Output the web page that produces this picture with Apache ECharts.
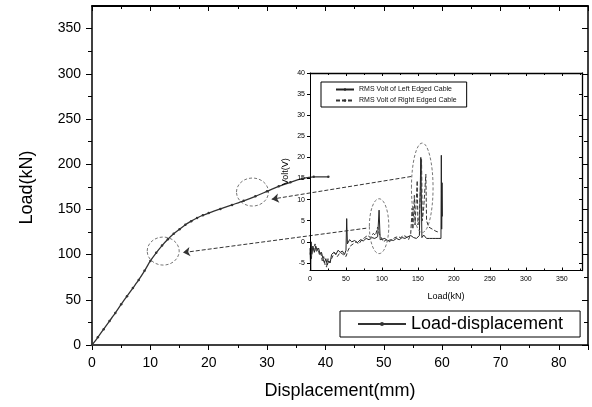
<!DOCTYPE html>
<html>
<head>
<meta charset="utf-8">
<script src="https://cdn.jsdelivr.net/npm/echarts@6/dist/echarts.min.js"></script>
<style>
  html,body{margin:0;padding:0;background:#fff;}
  #chart{width:592px;height:407px;}
</style>
</head>
<body>
<div id="chart"></div>
<script>
// main curve: load vs displacement
const dispMm = [0,1,2,3,4,5,6,7,8,9,10,11,12,13,14,15,16,17,18,19,20,22,24,26,28,30,32,34,36,38,40.5];
const loadKn = [0,8.5,17.5,26.5,35.5,45,54,63,72,82,93,102,110,117,123,128,133,137,140.5,143.5,146,150.5,155,159.5,164.5,170,175.5,180,184,186,186];

// inset: RMS volt vs load, left edged cable (solid)
const leftLoad = [0,1,1.5,2.5,4,6,8,10,12,14,16,18,20,22,24,26,28,30,33,36,39,42,45,48,50,51,52,55,58,62,66,70,74,78,82,86,90,94,96,97.5,100,104,108,112,116,120,124,128,132,136,140,144,148,152,154,155.5,158,162,166,170,174,178,182,182.5,183,183.5,184];
const leftVolt = [-1.5,-7,0,-3,-1,-2.5,-1,-2,-1.5,-3,-2.5,-4,-5,-4,-5.5,-4.5,-5,-3,-2.5,-3,-2,-2.5,-2.2,-3,-2,5.5,-0.5,0.5,0,0.3,-0.2,0.5,0.2,0.8,0.5,1,0.8,1.2,7.5,0.5,0.3,0.8,0.2,0.5,0.3,0.8,0.5,1,0.8,1.2,1.5,1,0.8,1.5,20,1,1.6,0.8,0.8,0.8,0.8,0.8,0.8,20.5,3,14,6];

// inset: right edged cable (dashed)
const rightLoad = [0,1,2,3,5,7,9,11,13,15,17,19,21,23,25,27,30,34,38,42,46,50,53,56,60,64,68,72,76,80,84,88,91,94,96,99,102,106,110,114,118,122,126,130,134,137,140,142,143,145,146,149,150,152,155,156,158,161,162,165,170,175,180];
const rightVolt = [-3,-2,-4,-1.5,-2,-0.5,-2.5,-1.5,-3,-2.5,-4.5,-3.5,-5.5,-6,-4,-5,-4,-2.5,-3.5,-2.5,-3,-3.5,-2,-1,-0.5,0,-0.5,0.5,1,1.5,1,2,1.5,3.5,2,1,0,0.5,0,0.5,1,1.2,1,1.5,1.2,0.5,2,8,3,11,4,14.5,4,6,19.5,5,8,16,5,3.5,3,2.5,2.2];

// annotations: [centre x, centre y, half width, half height] in data units
const mainRings = [[12.2,103.9,2.74,15.5],[27.5,169.2,2.74,15.5]];
const insetRings = [[96,3.7,13.5,6.5],[156,12.8,15,10.6]];
// arrows from inset peaks to the main curve (main axes units)
const arrowLinks = [[[47,129.2],[15.6,102.2]],[[54.7,186.4],[30.8,161.3]]];

const yMainTicks = [0,50,100,150,200,250,300,350];
const yInsetTicks = [-5,0,5,10,15,20,25,30,35,40];

const FONT = '"Liberation Sans", Arial, sans-serif';
const zip = (a,b) => a.map((v,i)=>[v,b[i]]);

function ringItem(params, api){
  const c = api.coord([api.value(0), api.value(1)]);
  const e = api.coord([api.value(0)+api.value(2), api.value(1)+api.value(3)]);
  return {
    type:'ellipse',
    shape:{cx:c[0], cy:c[1], rx:Math.abs(e[0]-c[0]), ry:Math.abs(c[1]-e[1])},
    style:{fill:'none', stroke:'#777', lineWidth:1, lineDash:[3,2]}
  };
}

const chart = echarts.init(document.getElementById('chart'), null, {renderer:'canvas'});

// frame axes (top / right) with inward ticks, no labels
const mirror = (extra, w) => Object.assign({
  axisLabel:{show:false}, splitLine:{show:false},
  axisLine:{onZero:false, lineStyle:{color:'#000', width:w}},
}, extra);

chart.setOption({
  animation:false,
  backgroundColor:'#fff',
  textStyle:{fontFamily:FONT},
  grid:[
    {left:92, top:6, width:496, height:339},
    {left:310, top:73, width:272, height:197.5}
  ],
  legend:[
    {
      data:['Load-displacement'], left:340, top:311,
      orient:'horizontal', padding:[4,17,4,17], itemWidth:48, itemHeight:5,
      borderColor:'#000', borderWidth:1, backgroundColor:'#fff',
      textStyle:{fontSize:18, color:'#000', fontFamily:FONT}
    },
    {
      data:['RMS Volt of Left Edged Cable','RMS Volt of Right Edged Cable'],
      left:321, top:82, orient:'vertical', padding:[4,10,3,14],
      itemWidth:18, itemHeight:3, itemGap:4,
      borderColor:'#000', borderWidth:1,
      textStyle:{fontSize:7, color:'#111', fontFamily:FONT}
    }
  ],
  xAxis:[
    {
      gridIndex:0, type:'value', min:0, max:85, interval:10,
      name:'Displacement(mm)', nameLocation:'middle', nameGap:37,
      nameTextStyle:{fontSize:18, color:'#000'},
      axisLine:{onZero:false, lineStyle:{color:'#000', width:1.5}},
      axisTick:{length:5, lineStyle:{color:'#000', width:1}},
      minorTick:{show:true, splitNumber:2, length:3, lineStyle:{color:'#000'}},
      axisLabel:{fontSize:14, color:'#000', margin:11, showMaxLabel:false},
      splitLine:{show:false}
    },
    mirror({
      gridIndex:0, type:'value', position:'top', min:0, max:85, interval:10,
      axisTick:{inside:true, length:5, lineStyle:{color:'#000'}},
      minorTick:{show:true, splitNumber:2, length:3, lineStyle:{color:'#000'}}
    }, 1.8),
    {
      gridIndex:1, type:'value', min:0, max:378, interval:50,
      name:'Load(kN)', nameLocation:'middle', nameGap:22,
      nameTextStyle:{fontSize:9, color:'#000'},
      axisLine:{onZero:false, lineStyle:{color:'#000', width:1}},
      axisTick:{inside:true, length:3, lineStyle:{color:'#000'}},
      minorTick:{show:true, splitNumber:2, length:2, lineStyle:{color:'#000'}},
      axisLabel:{fontSize:7, color:'#000', margin:5, showMaxLabel:false},
      splitLine:{show:false}
    },
    mirror({
      gridIndex:1, type:'value', position:'top', min:0, max:378, interval:50,
      axisTick:{inside:true, length:3, lineStyle:{color:'#000'}},
      minorTick:{show:true, splitNumber:2, length:2, lineStyle:{color:'#000'}}
    }, 1.3)
  ],
  yAxis:[
    {
      gridIndex:0, type:'value', min:0, max:375, interval:50,
      name:'Load(kN)', nameLocation:'middle', nameGap:56,
      nameTextStyle:{fontSize:18, color:'#000', padding:[0,24,0,0]},
      axisLine:{onZero:false, lineStyle:{color:'#000', width:1.5}},
      axisTick:{length:6, lineStyle:{color:'#000'}, customValues:yMainTicks},
      minorTick:{show:true, splitNumber:2, length:4, lineStyle:{color:'#000'}},
      axisLabel:{fontSize:14, color:'#000', margin:11, customValues:yMainTicks},
      splitLine:{show:false}
    },
    mirror({
      gridIndex:0, type:'value', position:'right', min:0, max:375, interval:50,
      axisTick:{inside:true, length:6, lineStyle:{color:'#000'}, customValues:yMainTicks},
      minorTick:{show:true, splitNumber:2, length:4, lineStyle:{color:'#000'}}
    }, 1.5),
    {
      gridIndex:1, type:'value', min:-6.8, max:40, z:6,
      name:'Volt(V)', nameLocation:'middle', nameGap:20,
      nameTextStyle:{fontSize:9, color:'#000'},
      axisLine:{onZero:false, lineStyle:{color:'#000', width:1}},
      axisTick:{length:3, lineStyle:{color:'#000'}, customValues:yInsetTicks},
      axisLabel:{fontSize:7, color:'#000', margin:5, customValues:yInsetTicks},
      splitLine:{show:false}
    },
    mirror({
      gridIndex:1, type:'value', position:'right', min:-6.8, max:40,
      axisTick:{inside:true, length:3, lineStyle:{color:'#000'}, customValues:yInsetTicks}
    }, 1.3)
  ],
  series:[
    {
      name:'Load-displacement', type:'line', xAxisIndex:0, yAxisIndex:0,
      data:zip(dispMm, loadKn), symbol:'circle', symbolSize:2.5, showAllSymbol:true,
      smooth:0.25,
      lineStyle:{color:'#333', width:1.3}, itemStyle:{color:'#333'}, z:5
    },
    {
      name:'RMS Volt of Left Edged Cable', type:'line', xAxisIndex:2, yAxisIndex:2,
      data:zip(leftLoad, leftVolt), symbol:'none',
      lineStyle:{color:'#222', width:1}, itemStyle:{color:'#222'}
    },
    {
      name:'RMS Volt of Right Edged Cable', type:'line', xAxisIndex:2, yAxisIndex:2,
      data:zip(rightLoad, rightVolt), symbol:'none',
      lineStyle:{color:'#333', width:1, type:[4,2]}, itemStyle:{color:'#333'}
    },
    {
      type:'custom', xAxisIndex:0, yAxisIndex:0, data:mainRings,
      renderItem:ringItem, silent:true, z:4
    },
    {
      type:'custom', xAxisIndex:2, yAxisIndex:2, data:insetRings,
      renderItem:ringItem, silent:true, z:4
    },
    {
      type:'lines', coordinateSystem:'cartesian2d', xAxisIndex:0, yAxisIndex:0,
      data:arrowLinks.map(c=>({coords:c})),
      symbol:['none','arrow'], symbolSize:7,
      lineStyle:{color:'#333', width:1, type:[4,2], opacity:1}, z:4
    }
  ]
});
</script>
</body>
</html>
